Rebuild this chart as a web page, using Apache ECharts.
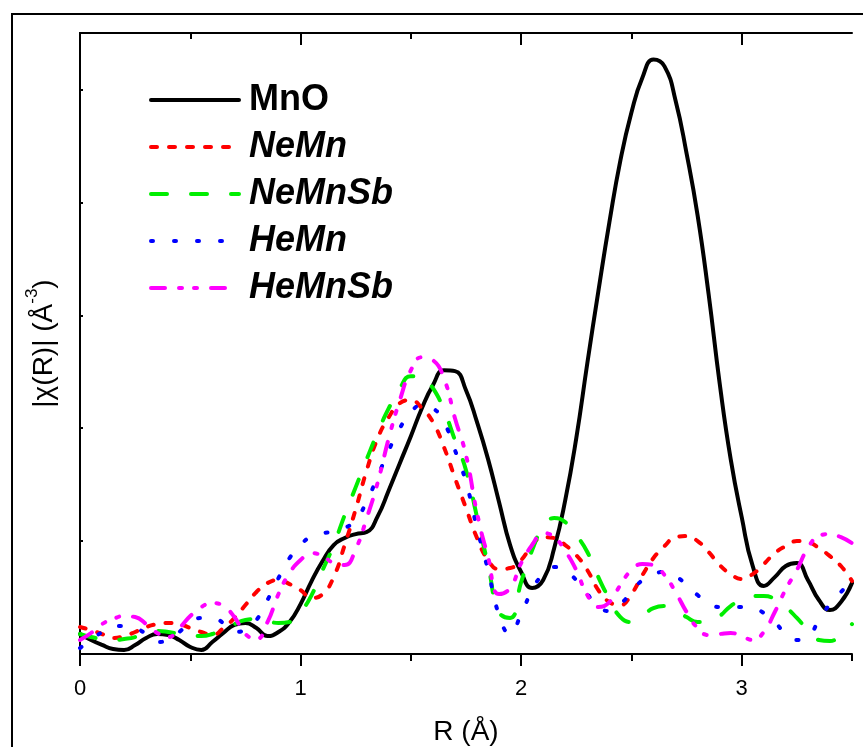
<!DOCTYPE html>
<html><head><meta charset="utf-8">
<script src="https://cdn.jsdelivr.net/npm/echarts@6/dist/echarts.min.js"></script>
<style>html,body{margin:0;padding:0;background:#fff}#c{width:863px;height:747px}</style>
</head><body><div id="c"></div>
<script>
const R = [0,0.05,0.1,0.15,0.2,0.25,0.3,0.35,0.4,0.45,0.5,0.55,0.6,0.65,0.7,0.75,0.8,0.85,0.9,0.95,
  1.0,1.05,1.1,1.15,1.2,1.25,1.3,1.35,1.4,1.45,1.5,1.55,1.6,1.65,1.7,1.75,1.8,1.85,1.9,1.95,
  2.0,2.05,2.1,2.15,2.2,2.25,2.3,2.35,2.4,2.45,2.5,2.55,2.6,2.65,2.7,2.75,2.8,2.85,2.9,2.95,
  3.0,3.05,3.1,3.15,3.2,3.25,3.3,3.35,3.4,3.45,3.5];
const MnO = [0.177,0.124,0.080,0.044,0.035,0.080,0.142,0.177,0.168,0.124,
  0.062,0.035,0.106,0.186,0.257,0.274,0.230,0.159,0.195,0.283,
  0.442,0.646,0.823,0.965,1.027,1.062,1.080,1.221,1.451,1.690,
  1.929,2.177,2.381,2.512,2.505,2.336,2.053,1.726,1.345,0.965,
  0.726,0.584,0.655,0.938,1.363,1.912,2.575,3.212,3.823,4.372,
  4.796,5.106,5.265,5.204,4.903,4.434,3.885,3.186,2.398,1.726,
  1.212,0.779,0.602,0.681,0.779,0.805,0.655,0.478,0.389,0.460,0.628];
const NeMn = [0.239,0.212,0.177,0.142,0.159,0.195,0.239,0.265,0.274,0.265,
  0.230,0.195,0.168,0.230,0.319,0.434,0.549,0.628,0.655,0.619,
  0.566,0.496,0.531,0.681,0.965,1.283,1.628,1.912,2.097,2.221,
  2.248,2.177,2.053,1.832,1.558,1.292,1.027,0.832,0.752,0.761,
  0.832,0.965,1.035,1.027,0.965,0.876,0.743,0.566,0.460,0.434,
  0.531,0.699,0.850,0.956,1.035,1.044,1.000,0.903,0.788,0.708,
  0.664,0.708,0.796,0.894,0.956,1.000,0.991,0.938,0.867,0.779,0.646];
const NeMnSb = [0.177,0.150,0.133,0.124,0.133,0.150,0.186,0.204,0.195,0.177,
  0.159,0.159,0.177,0.221,0.265,0.301,0.310,0.292,0.274,0.283,
  0.372,0.522,0.743,0.965,1.230,1.478,1.726,1.965,2.177,2.354,
  2.460,2.460,2.354,2.159,1.894,1.628,1.212,0.788,0.372,0.319,
  0.637,0.920,1.124,1.204,1.168,1.053,0.903,0.681,0.487,0.327,
  0.283,0.336,0.407,0.425,0.389,0.327,0.283,0.283,0.336,0.425,
  0.478,0.513,0.513,0.487,0.416,0.319,0.212,0.124,0.115,0.177,0.265];
const HeMn = [0.053,0.124,0.195,0.248,0.248,0.230,0.177,0.106,0.124,0.195,
  0.283,0.319,0.319,0.274,0.195,0.212,0.301,0.478,0.673,0.850,
  0.965,1.044,1.071,1.080,1.115,1.186,1.354,1.575,1.805,2.000,
  2.142,2.204,2.177,2.053,1.805,1.522,1.115,0.743,0.345,0.177,
  0.354,0.566,0.708,0.770,0.735,0.655,0.531,0.416,0.381,0.442,
  0.549,0.655,0.708,0.726,0.690,0.611,0.522,0.451,0.416,0.416,
  0.416,0.407,0.363,0.283,0.177,0.124,0.150,0.301,0.442,0.549,0.655];
const HeMnSb = [0.124,0.186,0.265,0.310,0.336,0.327,0.265,0.186,0.150,0.230,
  0.336,0.416,0.451,0.425,0.327,0.177,0.133,0.283,0.531,0.717,
  0.832,0.894,0.867,0.805,0.788,0.929,1.204,1.522,1.912,2.248,
  2.513,2.628,2.602,2.442,2.088,1.761,1.248,0.858,0.531,0.584,
  0.805,0.965,1.071,1.035,0.912,0.743,0.522,0.416,0.460,0.611,
  0.743,0.796,0.788,0.699,0.549,0.372,0.230,0.168,0.177,0.186,
  0.159,0.124,0.195,0.372,0.575,0.743,0.938,1.044,1.062,1.035,0.982];
const xMajorTicks = [0,1,2,3];
const xMinorTicks = [0.5,1.5,2.5,3.5];
const seriesNames = ['MnO','NeMn','NeMnSb','HeMn','HeMnSb'];
const seriesValues = [MnO, NeMn, NeMnSb, HeMn, HeMnSb];
const colors = ['#000000','#ff0000','#00ee00','#0000ff','#ff00ff'];
const dashes = ['solid',[6,12],[16,24],[2,21],[14,14,3,12,3,14]];

const FONT = '"Liberation Sans", Arial, sans-serif';
const chart = echarts.init(document.getElementById('c'), null, {renderer:'canvas'});
const axLine = {show:true, lineStyle:{color:'#000', width:2}};
const option = {
  backgroundColor:'#fff',
  animation:false,
  textStyle:{fontFamily:FONT},
  grid:{left:80, right:11, top:33, bottom:93, containLabel:false, outerBoundsMode:'none'},
  graphic:[{type:'rect', shape:{x:12,y:14,width:880,height:780}, style:{fill:'none', stroke:'#000', lineWidth:2}, silent:true}],
  legend:{
    orient:'vertical', left:149, top:80, padding:0, itemWidth:88, itemHeight:14, itemGap:7,
    itemStyle:{opacity:0}, lineStyle:{width:4, cap:'round'},
    textStyle:{fontFamily:FONT, fontSize:36, fontWeight:'bold', fontStyle:'italic', color:'#000', lineHeight:40, padding:[0,0,0,5]},
    data: seriesNames.map((n,i)=>({name:n, textStyle:{fontStyle: i===0?'normal':'italic'}}))
  },
  xAxis:[
    {type:'value', min:0, max:3.5, interval:1, position:'bottom',
     name:'R (Å)', nameLocation:'middle', nameGap:64,
     nameTextStyle:{fontFamily:FONT, fontSize:28, color:'#000'},
     axisLine:axLine, splitLine:{show:false},
     axisTick:{show:true, inside:false, length:12, lineStyle:{width:2,color:'#000'}, customValues:xMajorTicks},
     axisLabel:{show:true, fontSize:22, color:'#000', margin:24, fontFamily:FONT, customValues:xMajorTicks}},
    {type:'value', min:0, max:3.5, position:'bottom', gridIndex:0,
     axisLine:{show:false}, splitLine:{show:false}, axisLabel:{show:false},
     axisTick:{show:true, inside:false, length:7, lineStyle:{width:2,color:'#000'}, customValues:xMinorTicks}},
    {type:'value', min:0, max:3.5, position:'top', gridIndex:0,
     axisLine:axLine, splitLine:{show:false}, axisLabel:{show:false},
     axisTick:{show:true, inside:true, length:12, lineStyle:{width:2,color:'#000'}, customValues:[1,2,3]}},
    {type:'value', min:0, max:3.5, position:'top', gridIndex:0,
     axisLine:{show:false}, splitLine:{show:false}, axisLabel:{show:false},
     axisTick:{show:true, inside:true, length:6, lineStyle:{width:2,color:'#000'}, customValues:[0.5,1.5,2.5]}}
  ],
  yAxis:[
    {type:'value', min:0, max:5.5, interval:1, position:'left',
     name:'{a|\u007C\u03C7(R)\u007C (Å}{s|-3}{a|)}', nameLocation:'middle', nameRotate:90, nameGap:22,
     nameTextStyle:{fontFamily:FONT, fontSize:28, color:'#000',
       rich:{a:{fontFamily:FONT, fontSize:28, color:'#000', lineHeight:34, verticalAlign:'bottom'},
             s:{fontFamily:FONT, fontSize:17, color:'#000', lineHeight:34, verticalAlign:'top'}}},
     axisLine:axLine, splitLine:{show:false}, axisLabel:{show:false},
     axisTick:{show:true, inside:true, length:3, lineStyle:{width:2,color:'#000'}, customValues:[1,2,3,4,5]}},
    {type:'value', min:0, max:5.5, interval:1, position:'right',
     axisLine:axLine, splitLine:{show:false}, axisLabel:{show:false},
     axisTick:{show:true, inside:false, length:3, lineStyle:{width:2,color:'#000'}, customValues:[1,2,3,4,5]}}
  ],
  series: seriesNames.map((n,i)=>({
    name:n, type:'line', xAxisIndex:0, yAxisIndex:0, symbol:'none', smooth:0.5,
    data: R.map((r,k)=>[r, seriesValues[i][k]]),
    itemStyle:{color:colors[i]},
    lineStyle:{color:colors[i], width:4, type:dashes[i], cap:'round', join:'round'},
    z: 2+i
  }))
};
chart.setOption(option);
</script>
</body></html>
